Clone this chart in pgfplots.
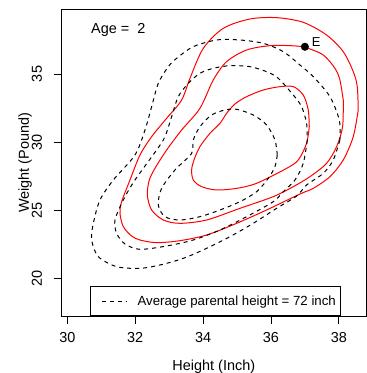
\documentclass[border=0pt]{standalone}
\usepackage{fontspec}
\setmainfont{Liberation Sans}
\usepackage{pgfplots}
\pgfplotsset{compat=1.18}
\begin{document}
\begin{tikzpicture}
\begin{axis}[
 scale only axis, width=304.3bp, height=306.7bp,
 xmin=29.835, xmax=38.80, ymin=17.232, ymax=39.75,
 xtick={30,32,34,36,38}, ytick={20,25,30,35},
 xtick pos=left, ytick pos=left, tick align=outside,
 major tick length=8bp,
 every tick/.style={black, line width=0.8bp},
 axis line style={line width=0.8bp},
 /pgf/number format/assume math mode=true,
 ticklabel style={font=\fontsize{14.5}{17}\selectfont, inner sep=0pt},
 xticklabel style={anchor=north, yshift=-8.3bp},
 yticklabel style={xshift=-11.5bp, rotate=90, anchor=south},
 xlabel={Height (Inch)}, ylabel={Weight (Pound)},
 every axis x label/.style={at={(axis description cs:0.5,-0.1761)}, anchor=base, inner sep=0pt, font=\fontsize{14.5}{17}\selectfont},
 every axis y label/.style={at={(axis description cs:-0.1075,0.5)}, rotate=90, anchor=base, inner sep=0pt, font=\fontsize{14.5}{17}\selectfont},
 legend style={at={(0.093,0)}, anchor=south west, draw=black, line width=0.8bp, fill=white,
   inner xsep=0pt, inner ysep=9bp, font=\fontsize{13.3}{15}\selectfont, nodes={inner sep=0pt}, column sep=10bp},
 legend image code/.code={\path[draw=none,fill=none] (0bp,0bp) -- (36.7bp,0bp); \draw[#1, dash pattern=on 4bp off 4bp] (11.7bp,0bp) -- (36.7bp,0bp);},
]
% outer red
\addplot[red, line width=1bp, smooth, forget plot] coordinates {
(38.572,32.357) (38.425,30.399) (38.130,28.688) (37.737,27.461) (37.247,26.605) (36.854,26.189)
(35.872,25.015) (34.989,24.036) (34.105,23.179) (33.319,22.763) (32.632,22.616) (32.141,22.812)
(31.896,23.106) (31.650,23.791) (31.552,24.770) (31.601,25.626) (31.847,27.217) (32.141,29.052)
(32.485,30.399) (32.927,31.745) (33.369,33.091) (33.614,34.682) (34.007,36.884) (34.596,38.353)
(35.381,39.038) (36.167,39.136) (36.952,38.793) (37.639,37.863) (38.130,36.640) (38.425,35.171)
(38.543,34.070) (38.572,32.357)};
% middle red
\addplot[red, line width=1bp, smooth, forget plot] coordinates {
(38.130,33.091) (38.111,31.133) (37.934,29.665) (37.639,28.441) (37.149,27.461) (36.658,26.728)
(36.069,25.994) (35.087,25.137) (34.105,24.280) (33.319,24.036) (32.829,24.280) (32.485,25.015)
(32.357,26.116) (32.416,27.217) (32.583,28.073) (32.927,29.420) (33.369,30.888) (33.908,32.479)
(34.301,34.559) (34.694,35.905) (35.283,36.762) (35.970,37.080) (36.559,37.080) (37.001,36.958)
(37.541,36.395) (37.885,35.416) (38.032,34.559) (38.130,33.091)};
% inner red
\addplot[red, line width=1bp, smooth, forget plot] coordinates {
(37.129,31.133) (37.050,29.909) (36.805,28.688) (36.461,28.073) (35.578,26.972) (34.989,26.605)
(34.399,26.483) (33.958,26.728) (33.712,27.217) (33.663,27.951) (33.732,28.688) (33.908,29.665)
(34.203,30.643) (34.498,31.378) (34.694,32.112) (34.939,32.797) (35.283,33.336) (35.774,33.825)
(36.265,34.070) (36.658,34.070) (36.952,33.458) (37.099,32.357) (37.129,31.133)};
% outer dashed
\addplot[black, line width=1bp, dash pattern=on 4bp off 4bp, smooth] coordinates {
(38.032,30.154) (37.836,28.688) (37.541,27.706) (37.050,26.850) (36.756,26.042) (36.167,25.137)
(35.479,24.036) (34.792,23.057) (34.105,22.200) (33.418,21.466) (32.730,20.976) (32.141,20.731)
(31.454,20.854) (30.914,21.588) (30.718,22.812) (30.767,24.036) (30.963,25.749) (31.356,27.217)
(31.994,29.052) (32.289,30.888) (32.485,32.601) (32.681,34.315) (32.976,35.538) (33.221,36.150)
(33.712,37.007) (34.399,37.496) (35.087,37.496) (35.774,37.251) (36.363,36.640) (36.854,35.661)
(37.247,34.804) (37.737,33.336) (38.013,31.622) (38.032,30.154)};
\addlegendentry{Average parental height = 72 inch\hspace*{4.7bp}}
% middle dashed
\addplot[black, line width=1bp, dash pattern=on 4bp off 4bp, smooth, forget plot] coordinates {
(37.070,30.154) (36.952,28.441) (36.707,27.217) (36.363,26.360) (36.069,25.626) (35.283,24.525)
(34.498,23.546) (33.712,22.812) (32.927,22.372) (32.141,22.127) (31.700,22.518) (31.454,23.302)
(31.405,24.280) (31.650,25.749) (31.994,27.217) (32.632,29.420) (32.878,30.399) (33.074,31.867)
(33.270,33.336) (33.565,34.315) (33.908,35.049) (34.301,35.416) (34.792,35.612) (35.381,35.538)
(35.872,35.171) (36.216,34.682) (36.658,33.458) (36.903,32.601) (37.050,31.378) (37.070,30.154)};
% inner dashed
\addplot[black, line width=1bp, dash pattern=on 4bp off 4bp, smooth, forget plot] coordinates {
(36.186,29.052) (36.118,28.196) (35.922,27.340) (35.578,26.360) (35.087,25.626) (34.498,25.015)
(33.908,24.525) (33.319,24.280) (32.878,24.525) (32.681,25.382) (32.779,26.605) (33.172,27.951)
(33.663,29.175) (33.712,30.154) (33.908,31.133) (34.252,31.990) (34.645,32.357) (34.989,32.406)
(35.479,31.990) (35.872,31.255) (36.118,30.154) (36.186,29.052)};
% point E
\addplot[only marks, mark=*, mark size=3.8bp, black, forget plot] coordinates {(37,37)};
\node[anchor=base west, inner sep=0pt, font=\fontsize{13}{15}\selectfont] at (axis cs:37.2,37.0) {E};
\node[anchor=base west, inner sep=0pt, font=\fontsize{14.5}{17}\selectfont] at (axis cs:30.698,37.99) {Age =\ \ 2};
\end{axis}
\path (current axis.south west) ++(-61.7bp,-57bp) rectangle ++(367bp,373bp);
\end{tikzpicture}
\end{document}
